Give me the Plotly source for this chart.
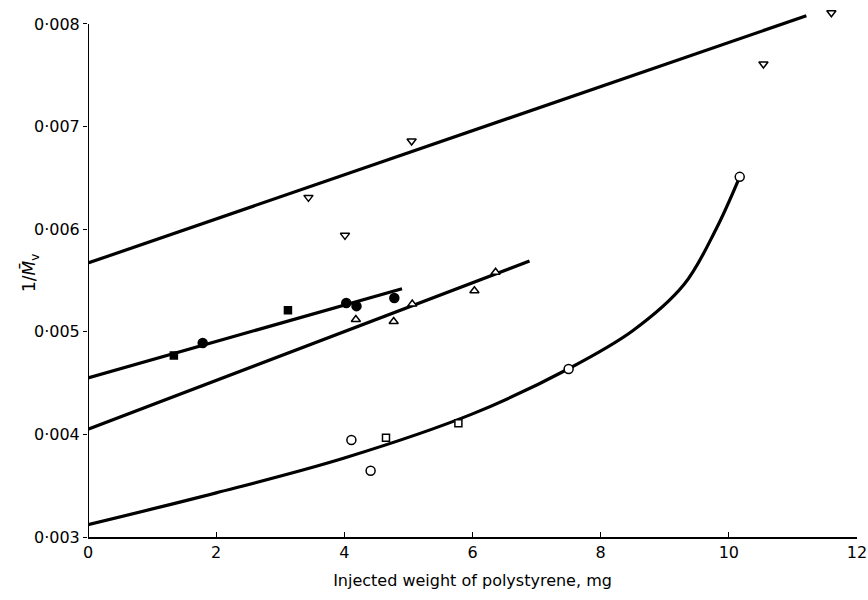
import plotly.graph_objects as go

# --- data ---
# inverted open triangles (top series)
tri_down_x = [3.44, 4.01, 5.05, 10.54, 11.6]
tri_down_y = [0.00631, 0.00594, 0.00686, 0.00761, 0.00811]
fit_top_x = [0, 11.21]
fit_top_y = [0.00567, 0.00808]

# filled circles / filled squares
filled_circ_x = [1.79, 4.03, 4.19, 4.78]
filled_circ_y = [0.00489, 0.00528, 0.00525, 0.00533]
filled_sq_x = [1.34, 3.12]
filled_sq_y = [0.00477, 0.00521]
fit_filled_x = [0, 4.9]
fit_filled_y = [0.00455, 0.00542]

# open up-triangles
tri_up_x = [4.18, 4.77, 5.06, 6.03, 6.36]
tri_up_y = [0.00512, 0.00510, 0.00527, 0.00540, 0.00558]
fit_up_x = [0, 6.89]
fit_up_y = [0.00405, 0.00569]

# open circles / open squares (bottom curve)
open_circ_x = [4.11, 4.41, 7.5, 10.17]
open_circ_y = [0.003945, 0.003646, 0.004637, 0.00651]
open_sq_x = [4.65, 5.78]
open_sq_y = [0.003968, 0.004108]
curve_x = [0, 2, 4, 6, 7.5, 8.5, 9.3, 9.8, 10.17]
curve_y = [0.00312, 0.00343, 0.00377, 0.00420, 0.00464, 0.00501, 0.00546, 0.00600, 0.00651]

x_ticks = [0, 2, 4, 6, 8, 10, 12]
y_ticks = [0.003, 0.004, 0.005, 0.006, 0.007, 0.008]
y_tick_text = ["0·003", "0·004", "0·005", "0·006", "0·007", "0·008"]

FONT = "DejaVu Sans"

fig = go.Figure()
for lx, ly, shape in [(fit_top_x, fit_top_y, "linear"),
                      (fit_filled_x, fit_filled_y, "linear"),
                      (fit_up_x, fit_up_y, "linear"),
                      (curve_x, curve_y, "spline")]:
    fig.add_trace(go.Scatter(x=lx, y=ly, mode="lines",
                             line=dict(color="black", width=3.2, shape=shape, smoothing=1.0),
                             hoverinfo="skip", showlegend=False))

def pts(x, y, symbol, size, filled):
    fig.add_trace(go.Scatter(
        x=x, y=y, mode="markers", showlegend=False, cliponaxis=False,
        marker=dict(symbol=symbol, size=size,
                    color="black" if filled else "white",
                    line=dict(color="black", width=1.5))))

pts(tri_down_x, tri_down_y, "triangle-down", 8, False)
pts(tri_up_x, tri_up_y, "triangle-up", 8, False)
pts(filled_circ_x, filled_circ_y, "circle", 9, True)
pts(filled_sq_x, filled_sq_y, "square", 7, True)
pts(open_circ_x, open_circ_y, "circle", 9, False)
pts(open_sq_x, open_sq_y, "square", 7, False)

# y-axis line drawn only from the first to the last tick (as in the reference)
fig.add_shape(type="line", xref="x", yref="y", x0=x_ticks[0], x1=x_ticks[0],
              y0=y_ticks[0], y1=y_ticks[-1], line=dict(color="black", width=2))

fig.add_annotation(text="1/<i>M\u0304</i><sub>v</sub>", xref="paper", yref="paper",
                   x=0, y=0.5, xshift=-58, textangle=-90, showarrow=False,
                   font=dict(size=17, family=FONT), xanchor="center", yanchor="middle")

fig.update_layout(
    width=868, height=600,
    margin=dict(l=88, r=11, t=9, b=63),
    paper_bgcolor="white", plot_bgcolor="white",
    font=dict(family=FONT, color="black", size=15),
    xaxis=dict(range=[0, 12], tickvals=x_ticks, ticks="inside", ticklen=5,
               tickcolor="black", showline=True, linecolor="black", linewidth=2,
               showgrid=False, zeroline=False, tickfont=dict(size=16), automargin=False,
               title=dict(text="Injected weight of polystyrene, mg", font=dict(size=16), standoff=14)),
    yaxis=dict(range=[0.003, 0.008146], tickvals=y_ticks, ticktext=y_tick_text,
               ticks="outside", ticklen=4, tickcolor="black",
               showline=False, showgrid=False, zeroline=False,
               tickfont=dict(size=16), automargin=False),
)

fig.write_html("out.html")
